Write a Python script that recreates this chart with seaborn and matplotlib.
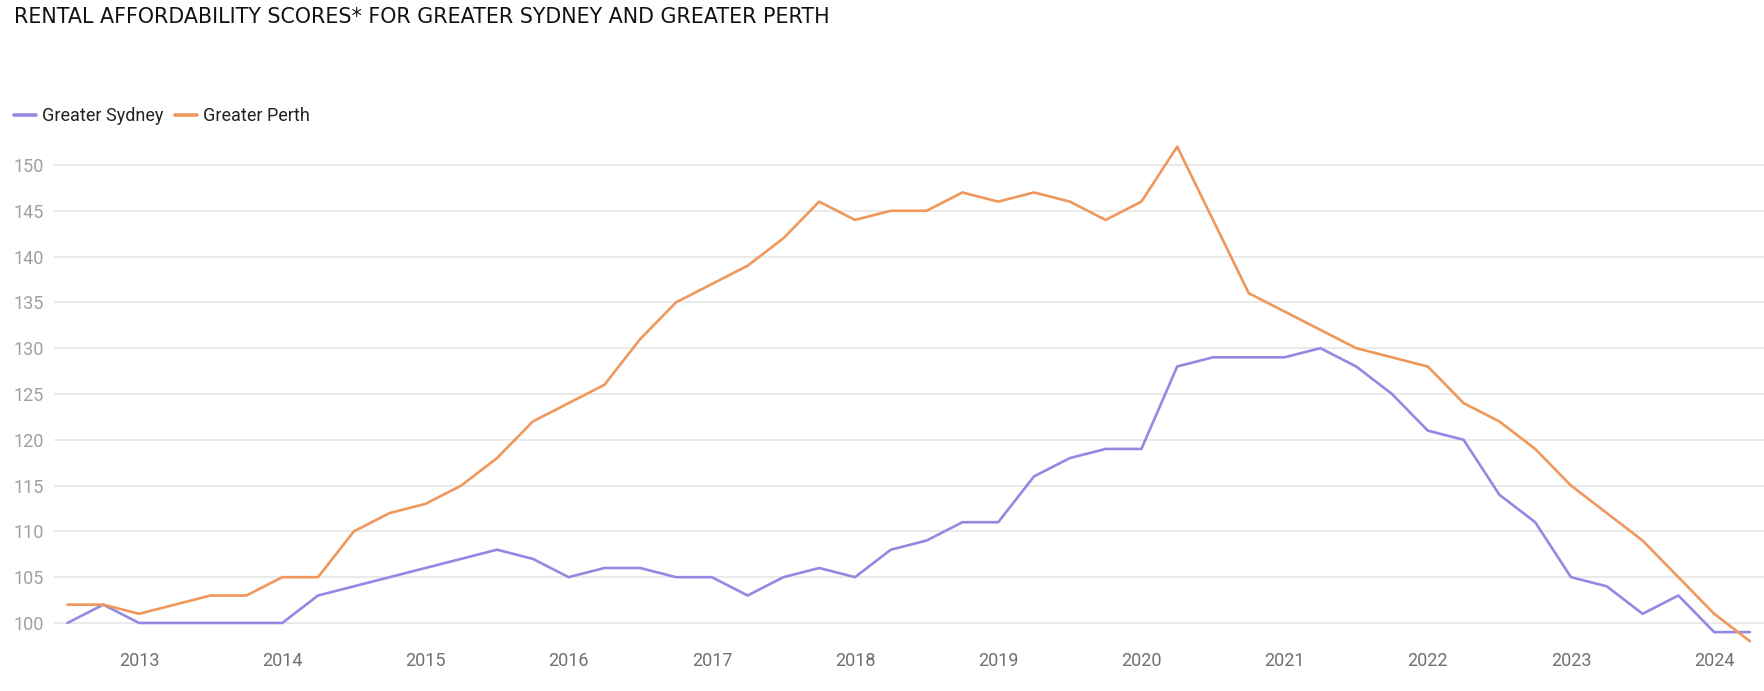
import numpy as np
import pandas as pd
import matplotlib
matplotlib.use("Agg")
import matplotlib.pyplot as plt
import seaborn as sns
from matplotlib.lines import Line2D

# ---- data (quarterly, 2012 Q3 .. 2024 Q2) ----
quarters = [2012.5 + 0.25 * i for i in range(48)]
sydney = [100, 102, 100, 100, 100, 100, 100, 103, 104, 105, 106, 107, 108, 107,
          105, 106, 106, 105, 105, 103, 105, 106, 105, 108, 109, 111, 111, 116,
          118, 119, 119, 128, 129, 129, 129, 130, 128, 125, 121, 120, 114, 111,
          105, 104, 101, 103, 99, 99]
perth = [102, 102, 101, 102, 103, 103, 105, 105, 110, 112, 113, 115, 118, 122,
         124, 126, 131, 135, 137, 139, 142, 146, 144, 145, 145, 147, 146, 147,
         146, 144, 146, 152, 144, 136, 134, 132, 130, 129, 128, 124, 122, 119,
         115, 112, 109, 105, 101, 98]
series_names = ["Greater Sydney", "Greater Perth"]
colors = {"Greater Sydney": "#9389e3", "Greater Perth": "#f0975b"}
year_ticks = list(range(2013, 2025))
y_ticks = list(range(100, 151, 5))
title = "RENTAL AFFORDABILITY SCORES* FOR GREATER SYDNEY AND GREATER PERTH"

df = pd.DataFrame({
    "quarter": quarters * 2,
    "score": sydney + perth,
    "region": [series_names[0]] * len(quarters) + [series_names[1]] * len(quarters),
})

sns.set_theme(style="white")
plt.rcParams["font.family"] = ["Roboto", "DejaVu Sans"]

W, H = 1764, 691
fig = plt.figure(figsize=(W / 100, H / 100), dpi=100)
ax = fig.add_axes([54 / W, 1 - 647.7 / H, 1 - 54 / W, (647.7 - 137.5) / H])

sns.lineplot(data=df, x="quarter", y="score", hue="region", palette=colors,
             hue_order=series_names, linewidth=1.9, ax=ax, legend=False)

ax.set_xlim(2012.406, 2024.348)
ax.set_ylim(97.3, 153)
ax.set_xticks(year_ticks)
ax.set_xticklabels([str(y) for y in year_ticks])
ax.set_yticks(y_ticks)
ax.set_yticklabels([str(v) for v in y_ticks])
ax.yaxis.grid(True, color="#e4e4e4", linewidth=1.1)
ax.xaxis.grid(False)
ax.set_axisbelow(True)
for s in ax.spines.values():
    s.set_visible(False)
ax.tick_params(axis="y", length=0, pad=7, labelsize=13, labelcolor="#a0a0a0")
ax.tick_params(axis="x", length=0, pad=3, labelsize=13, labelcolor="#707070")
ax.set_xlabel("")
ax.set_ylabel("")

# legend
handles = [Line2D([0], [0], color=colors[n], lw=2.6) for n in series_names]
fig.legend(handles, series_names, loc="center left",
           bbox_to_anchor=(13.5 / W, 1 - 116 / H), ncol=2, frameon=False,
           fontsize=13, handlelength=1.25, handletextpad=0.35,
           columnspacing=0.6, borderpad=0, borderaxespad=0,
           labelcolor="#222222")

fig.text(13.5 / W, 1 - 17 / H, title, ha="left", va="center",
         fontsize=14.9, color="#111111", family=["DejaVu Sans"])

fig.savefig("out.png", dpi=100, facecolor="white")
